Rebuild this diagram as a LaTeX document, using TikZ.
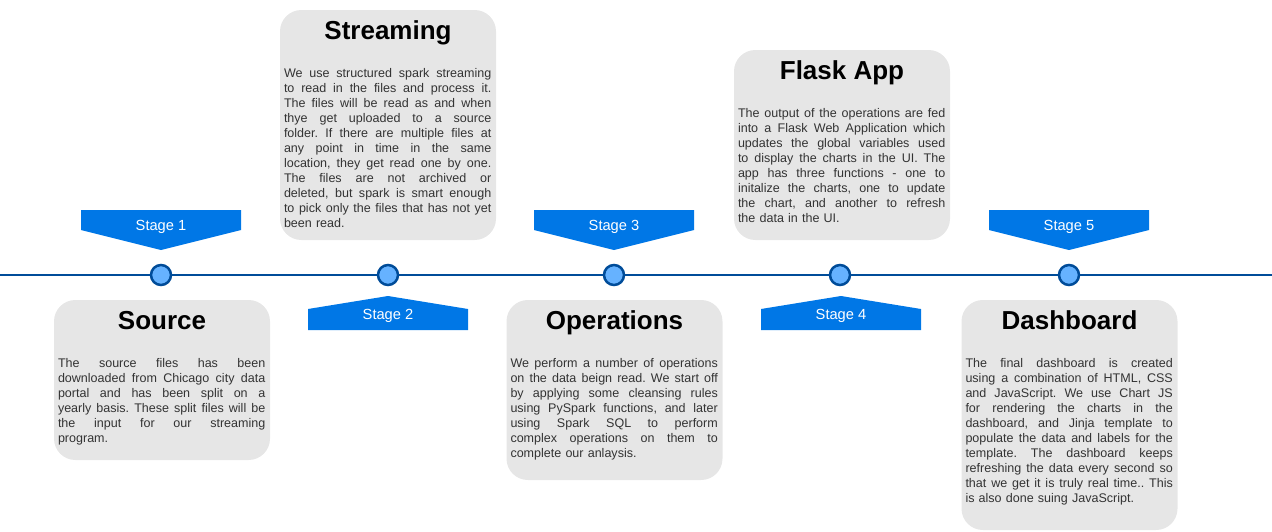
\documentclass[tikz,border=0pt]{standalone}
\usepackage{fontspec}
\setmainfont{Liberation Sans}
\usepackage{xcolor}
\frenchspacing

\definecolor{stageblue}{RGB}{0,119,230}
\definecolor{linedark}{RGB}{0,76,153}
\definecolor{dotfill}{RGB}{102,178,255}
\definecolor{boxgray}{RGB}{230,230,230}
\definecolor{bodytext}{RGB}{51,51,51}

\newlength{\bodyw}
\setlength{\bodyw}{155.5pt}
\newcommand{\jl}[1]{\makebox[\bodyw][s]{\spaceskip=0pt\xspaceskip=0pt #1}}

\tikzset{
    axis/.style={draw=linedark, line width=1.6pt},
    dot/.style={circle, draw=linedark, fill=dotfill, line width=1.9pt, minimum size=15pt, inner sep=0pt},
    banner/.style={fill=stageblue},
    stagetxt/.style={text=white, font=\fontsize{11}{13}\selectfont, inner sep=0pt},
    card/.style={rectangle, rounded corners=16pt, fill=boxgray, minimum width=162pt, inner sep=0pt},
    cardtitle/.style={anchor=base, font=\fontsize{19.5}{23}\selectfont\bfseries, inner sep=0pt},
    cardbody/.style={anchor=north west, align=left, text width=\bodyw, inner sep=0pt, text=bodytext,
        font=\fontsize{9.4}{11.25}\selectfont}
}

\begin{document}
\begin{tikzpicture}[x=0.75pt, y=-0.75pt]
    \useasboundingbox (0,0) rectangle (1272,532);

    \coordinate (tlW) at (0,275);
    \coordinate (tlE) at (1272,275);
    \draw[axis] (tlW) -- (tlE);

    \foreach \i/\x in {1/161,2/388,3/614,4/840,5/1069}
        \node[dot] (d\i) at (\x,275) {};

    \foreach \x/\n in {161/1,614/3,1069/5}
    {
        \fill[banner] (\x-80,210) -- (\x+80,210) -- (\x+80,230) -- (\x,250) -- (\x-80,230) -- cycle;
        \node[stagetxt] (s\n) at (\x,227) {Stage \n};
    }
    \foreach \x/\n in {388/2,841/4}
    {
        \fill[banner] (\x-80,330) -- (\x+80,330) -- (\x+80,309) -- (\x,296) -- (\x-80,309) -- cycle;
        \node[stagetxt] (s\n) at (\x,316) {Stage \n};
    }

    \node[card, minimum height=120pt] (src) at (162,380) {};
    \node[cardtitle] (srcT) at ([shift={(0,30)}]src.north) {Source};
    \node[cardbody] (srcB) at ([shift={(4,58)}]src.north west) {%
        \jl{The source files has been}\\
        \jl{downloaded from Chicago city data}\\
        \jl{portal and has been split on a}\\
        \jl{yearly basis. These split files will be}\\
        \jl{the input for our streaming}\\
        program.};

    \node[card, minimum height=172.5pt] (strm) at (388,125) {};
    \node[cardtitle] (strmT) at ([shift={(0,30)}]strm.north) {Streaming};
    \node[cardbody] (strmB) at ([shift={(4,58)}]strm.north west) {%
        \jl{We use structured spark streaming}\\
        \jl{to read in the files and process it.}\\
        \jl{The files will be read as and when}\\
        \jl{thye get uploaded to a source}\\
        \jl{folder. If there are multiple files at}\\
        \jl{any point in time in the same}\\
        \jl{location, they get read one by one.}\\
        \jl{The files are not archived or}\\
        \jl{deleted, but spark is smart enough}\\
        \jl{to pick only the files that has not yet}\\
        been read.};

    \node[card, minimum height=135pt] (ops) at (614.5,390) {};
    \node[cardtitle] (opsT) at ([shift={(0,30)}]ops.north) {Operations};
    \node[cardbody] (opsB) at ([shift={(4,58)}]ops.north west) {%
        \jl{We perform a number of operations}\\
        \jl{on the data beign read. We start off}\\
        \jl{by applying some cleansing rules}\\
        \jl{using PySpark functions, and later}\\
        \jl{using Spark SQL to perform}\\
        \jl{complex operations on them to}\\
        complete our anlaysis.};

    \node[card, minimum height=142.5pt] (flask) at (842,145) {};
    \node[cardtitle] (flaskT) at ([shift={(0,30)}]flask.north) {Flask App};
    \node[cardbody] (flaskB) at ([shift={(4,58)}]flask.north west) {%
        \jl{The output of the operations are fed}\\
        \jl{into a Flask Web Application which}\\
        \jl{updates the global variables used}\\
        \jl{to display the charts in the UI. The}\\
        \jl{app has three functions - one to}\\
        \jl{initalize the charts, one to update}\\
        \jl{the chart, and another to refresh}\\
        the data in the UI.};

    \node[card, minimum height=172.5pt] (dash) at (1069.5,415) {};
    \node[cardtitle] (dashT) at ([shift={(0,30)}]dash.north) {Dashboard};
    \node[cardbody] (dashB) at ([shift={(4,58)}]dash.north west) {%
        \jl{The final dashboard is created}\\
        \jl{using a combination of HTML, CSS}\\
        \jl{and JavaScript. We use Chart JS}\\
        \jl{for rendering the charts in the}\\
        \jl{dashboard, and Jinja template to}\\
        \jl{populate the data and labels for the}\\
        \jl{template. The dashboard keeps}\\
        \jl{refreshing the data every second so}\\
        \jl{that we get it is truly real time.. This}\\
        is also done suing JavaScript.};
\end{tikzpicture}
\end{document}
